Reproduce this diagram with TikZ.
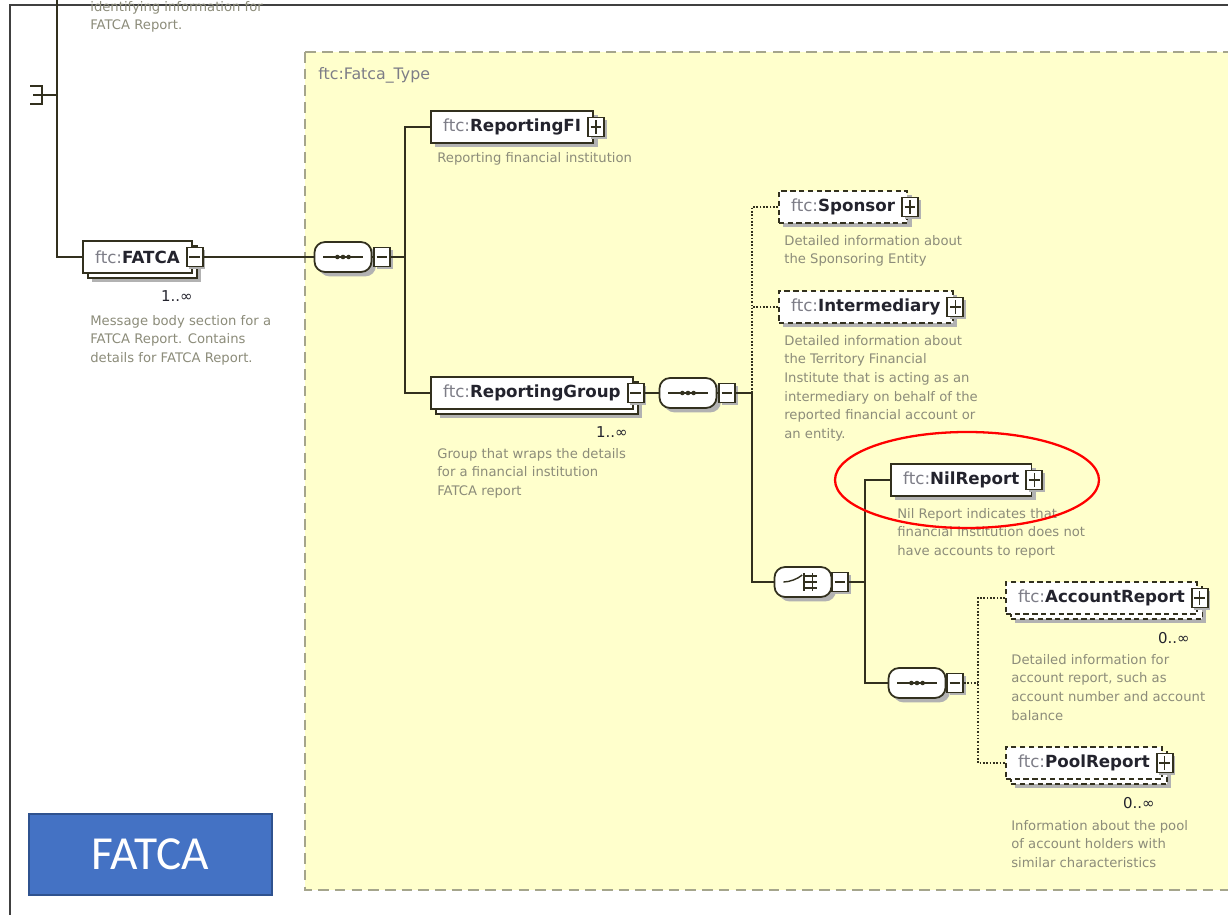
\documentclass[tikz,border=0pt]{standalone}
\usepackage{fontspec}
\newfontfamily\xsdfont{DejaVu Sans}
\newfontfamily\slidefont{Carlito}
\usetikzlibrary{shapes.geometric,shadows}

\definecolor{panelyellow}{RGB}{255,255,204}
\definecolor{paneledge}{RGB}{165,165,140}
\definecolor{linecol}{RGB}{50,48,30}
\definecolor{descgray}{RGB}{140,140,122}
\definecolor{ftcgray}{RGB}{125,125,135}
\definecolor{namecol}{RGB}{35,35,45}
\definecolor{slideblue}{RGB}{68,114,196}
\definecolor{slideedge}{RGB}{47,82,143}

\newcommand{\pxl}{0.02cm}
\newcommand{\ftc}[1]{{\color{ftcgray}ftc:}{\bfseries\color{namecol}#1}}

\tikzset{
  conn/.style={draw=linecol, line width=0.9pt},
  optconn/.style={conn, densely dotted},
  elem/.style={draw=linecol, line width=1pt, fill=white, anchor=west,
    minimum height=32*\pxl, inner xsep=7pt, font=\xsdfont\fontsize{9.5}{11}\selectfont},
  single/.style={drop shadow={shadow xshift=2.5pt, shadow yshift=-2.5pt, fill=black!30, opacity=1}},
  multi/.style={drop shadow={shadow xshift=5pt, shadow yshift=-5pt, fill=black!30, opacity=1},
    copy shadow={shadow xshift=3pt, shadow yshift=-3pt}},
  opt/.style={densely dashed},
  pmbox/.style={draw=linecol, line width=1.1pt, fill=white, minimum width=16*\pxl,
    minimum height=19*\pxl, inner sep=0,
    drop shadow={shadow xshift=1.5pt, shadow yshift=-1.5pt, fill=black!30, opacity=1}},
  minusbox/.style={pmbox, path picture={
    \draw[linecol, line width=0.8pt] ([xshift=1.5pt]path picture bounding box.west) -- ([xshift=-1.5pt]path picture bounding box.east);}},
  plusbox/.style={pmbox, path picture={
    \draw[linecol, line width=0.8pt] ([xshift=1.5pt]path picture bounding box.west) -- ([xshift=-1.5pt]path picture bounding box.east);
    \draw[linecol, line width=0.8pt] ([yshift=1.5pt]path picture bounding box.south) -- ([yshift=-1.5pt]path picture bounding box.north);}},
  compo/.style={rounded corners=6pt, draw=linecol, line width=1pt,
    fill=white, minimum width=57*\pxl, minimum height=30*\pxl, inner sep=0,
    drop shadow={shadow xshift=2.5pt, shadow yshift=-2.5pt, fill=black!30, opacity=1}},
  seqbox/.style={compo, path picture={
    \draw[linecol, line width=0.8pt] ([xshift=5pt]path picture bounding box.west) -- ([xshift=-5pt]path picture bounding box.east);
    \foreach \dx in {-3.2pt,0pt,3.2pt} \fill[linecol] ([xshift=\dx]path picture bounding box.center) circle (1.3pt);}},
  choicebox/.style={compo, path picture={
    \draw[linecol, line width=0.8pt] ([xshift=5pt]path picture bounding box.west) -- ([xshift=-5pt]path picture bounding box.center) -- ([xshift=-1pt,yshift=3.5pt]path picture bounding box.center);
    \draw[linecol, line width=0.8pt] ([xshift=0.5pt,yshift=5pt]path picture bounding box.center) -- ([xshift=0.5pt,yshift=-5pt]path picture bounding box.center);
    \draw[linecol, line width=0.8pt] ([xshift=5.5pt,yshift=5pt]path picture bounding box.center) -- ([xshift=5.5pt,yshift=-5pt]path picture bounding box.center);
    \foreach \dy in {-3.5pt,0pt,3.5pt} \draw[linecol, line width=0.8pt] ([xshift=0.5pt,yshift=\dy]path picture bounding box.center) -- ([xshift=8pt,yshift=\dy]path picture bounding box.center);}},
  desc/.style={anchor=north west, align=left, inner sep=0, text=descgray,
    font=\xsdfont\fontsize{7.5}{10.6}\selectfont},
  mult/.style={anchor=east, inner sep=0, text=namecol, font=\xsdfont\fontsize{8.5}{10}\selectfont},
}

\begin{document}
\begin{tikzpicture}[x=0.02cm, y=-0.02cm]
  \useasboundingbox (0,0) rectangle (1228,915);
  \fill[white] (0,0) rectangle (1228,915);
  \begin{scope}
    \clip (0,0) rectangle (1228,915);
    \draw[black!75, line width=1.2pt] (10,930) -- (10,5) -- (1240,5);
    \draw[fill=panelyellow, draw=paneledge, line width=1.2pt, dash pattern=on 6pt off 3.5pt]
      (305,52) rectangle (1250,890);
    \node[desc] (topdesc) at (90,1) {identifying information for\\FATCA Report.};
    \node[anchor=west, inner sep=0, text=ftcgray, font=\xsdfont\fontsize{9}{10}\selectfont]
      (ftype) at (318,75) {ftc:Fatca\_Type};

    % root sequence, cut at the frame
    \coordinate (rootA) at (30,86);
    \coordinate (rootB) at (42,86);
    \coordinate (rootC) at (42,104);
    \coordinate (rootD) at (30,104);
    \coordinate (rootM) at (33,95);
    \coordinate (rootE) at (42,95);
    \coordinate (rootT) at (57,95);
    \draw[linecol, line width=1.3pt] (rootA) -- (rootB) -- (rootC) -- (rootD);
    \draw[linecol, line width=1pt] (rootM) -- (rootE);
    \draw[conn] (rootE) -- (rootT);
    \coordinate (top) at (57,-5);
    \coordinate (t0) at (57,257);

    \node[elem, multi] (fatca) at (82,257) {\ftc{FATCA}};
    \node[minusbox] (fatcam) at ([xshift=1pt]fatca.east) {};
    \node[mult] (fatcan) at (193,296) {1..∞};
    \node[desc] (fatcad) at (90,315) {Message body section for a\\FATCA Report. Contains\\details for FATCA Report.};
    \draw[conn] (top) -- (t0) -- (fatca.west);

    \node[seqbox] (seq1) at (343,257) {};
    \node[minusbox] (seq1m) at (382,257) {};
    \draw[conn] (fatcam.east) -- (seq1.west);
    \draw[conn] (seq1.east) -- (seq1m.west);
    \coordinate (t1) at (405,257);

    \node[elem, single] (rfi) at (430,127) {\ftc{ReportingFI}};
    \node[plusbox] (rfip) at ([xshift=1pt]rfi.east) {};
    \node[desc] (rfid) at (437,152) {Reporting financial institution};

    \node[elem, multi] (rgrp) at (430,393) {\ftc{ReportingGroup}};
    \node[minusbox] (rgrpm) at ([xshift=1pt]rgrp.east) {};
    \node[mult] (rgrpn) at (628,432) {1..∞};
    \node[desc] (rgrpd) at (437,448) {Group that wraps the details\\for a financial institution\\FATCA report};
    \draw[conn] (seq1m.east) -- (t1);
    \draw[conn] (rfi.west) -| (t1) |- (rgrp.west);

    \node[seqbox] (seq2) at (688,393) {};
    \node[minusbox] (seq2m) at (727,393) {};
    \draw[conn] (rgrpm.east) -- (seq2.west);
    \draw[conn] (seq2.east) -- (seq2m.west);
    \coordinate (t2) at (752,393);
    \draw[conn] (seq2m.east) -- (t2);

    \node[elem, single, opt] (spon) at (778,207) {\ftc{Sponsor}};
    \node[plusbox] (sponp) at ([xshift=1pt]spon.east) {};
    \node[desc] (spond) at (784,235) {Detailed information about\\the Sponsoring Entity};

    \node[elem, single, opt] (inter) at (778,307) {\ftc{Intermediary}};
    \node[plusbox] (interp) at ([xshift=1pt]inter.east) {};
    \node[desc] (interd) at (784,335) {Detailed information about\\the Territory Financial\\Institute that is acting as an\\intermediary on behalf of the\\reported financial account or\\an entity.};
    \draw[optconn] (spon.west) -| (t2);
    \draw[optconn] (inter.west) -| (t2);

    \node[choicebox] (choice) at (803,582) {};
    \node[minusbox] (choicem) at (840,582) {};
    \draw[conn] (t2) |- (choice.west);
    \draw[conn] (choice.east) -- (choicem.west);
    \coordinate (t3) at (865,582);
    \draw[conn] (choicem.east) -- (t3);

    \node[elem, single] (nil) at (890,480) {\ftc{NilReport}};
    \node[plusbox] (nilp) at ([xshift=1pt]nil.east) {};
    \node[desc] (nild) at (897,508) {Nil Report indicates that\\financial institution does not\\have accounts to report};

    \node[seqbox] (seq3) at (917,683) {};
    \node[minusbox] (seq3m) at (955,683) {};
    \draw[conn] (nil.west) -| (t3) |- (seq3.west);
    \draw[conn] (seq3.east) -- (seq3m.west);
    \coordinate (t4) at (978,683);
    \draw[optconn] (seq3m.east) -- (t4);

    \node[elem, multi, opt] (acct) at (1005,598) {\ftc{AccountReport}};
    \node[plusbox] (acctp) at ([xshift=1pt]acct.east) {};
    \node[mult] (acctn) at (1190,638) {0..∞};
    \node[desc] (acctd) at (1011,654) {Detailed information for\\account report, such as\\account number and account\\balance};

    \node[elem, multi, opt] (pool) at (1005,763) {\ftc{PoolReport}};
    \node[plusbox] (poolp) at ([xshift=1pt]pool.east) {};
    \node[mult] (pooln) at (1155,803) {0..∞};
    \node[desc] (poold) at (1011,820) {Information about the pool\\of account holders with\\similar characteristics};
    \draw[optconn] (acct.west) -| (t4) |- (pool.west);

    \node[ellipse, draw=red, line width=1.3pt, minimum width=264*\pxl, minimum height=96*\pxl]
      (ring) at (967,480) {};

    \node[draw=slideedge, line width=1pt, fill=slideblue, text=white, minimum width=243*\pxl,
      minimum height=81*\pxl, font=\slidefont\fontsize{27}{30}\selectfont]
      (slide) at (150.5,854.5) {FATCA};
  \end{scope}
\end{tikzpicture}
\end{document}
